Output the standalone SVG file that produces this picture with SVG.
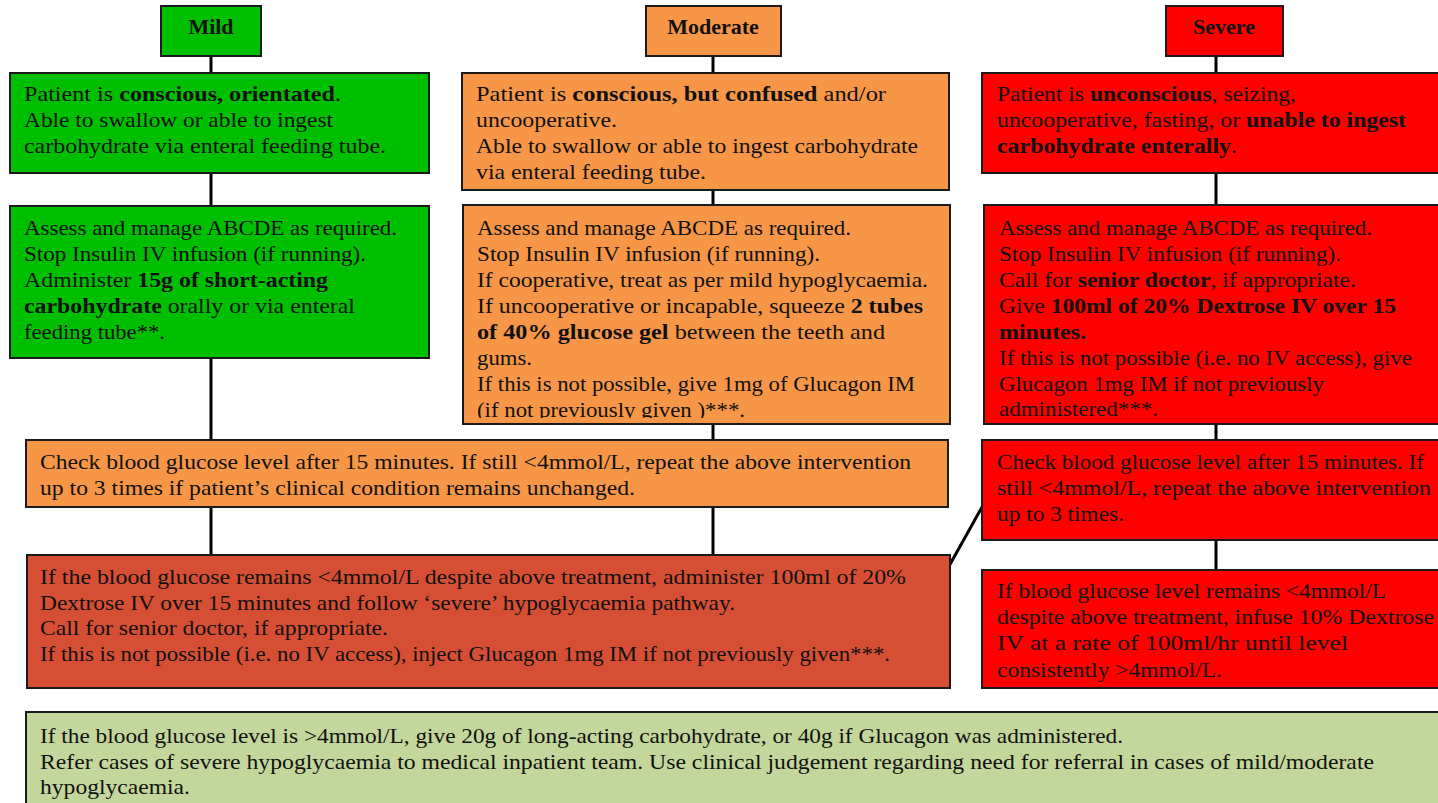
<svg xmlns="http://www.w3.org/2000/svg" width="1438" height="803" viewBox="0 0 1438 803">
<style>
.box{stroke:#1a1a1a;stroke-width:2}
.g{fill:#00BF00}.o{fill:#F79646}.r{fill:#FF0000}.dr{fill:#D64F35}.lg{fill:#C3D69B}
text{font-family:"Liberation Serif","Times New Roman",serif;font-size:21px;fill:#111}
.b{font-weight:bold}
.h{font-weight:bold;text-anchor:middle;font-size:22px}
.c line{stroke:#000;stroke-width:3}
</style>
<defs>
<clipPath id="clipMod2"><rect x="463" y="205" width="487" height="213"/></clipPath>
</defs>
<g class="c" id="connectors">
<line x1="211" y1="56" x2="211" y2="73"/>
<line x1="713" y1="56" x2="713" y2="73"/>
<line x1="1216" y1="56" x2="1216" y2="73"/>
<line x1="211" y1="173" x2="211" y2="206"/>
<line x1="713" y1="190" x2="713" y2="206"/>
<line x1="1216" y1="173" x2="1216" y2="206"/>
<line x1="211" y1="358" x2="211" y2="440"/>
<line x1="713" y1="424" x2="713" y2="440"/>
<line x1="1216" y1="424" x2="1216" y2="440"/>
<line x1="211" y1="507" x2="211" y2="555"/>
<line x1="713" y1="507" x2="713" y2="555"/>
<line x1="982" y1="507" x2="948" y2="568"/>
<line x1="1216" y1="540" x2="1216" y2="570"/>
</g>
<g id="mild-head"><rect class="box g" x="161" y="6" width="100" height="50"/><text class="h" x="211" y="34">Mild</text></g>
<g id="moderate-head"><rect class="box o" x="646" y="6" width="135" height="50"/><text class="h" x="713" y="34">Moderate</text></g>
<g id="severe-head"><rect class="box r" x="1166" y="6" width="117" height="50"/><text class="h" x="1224" y="34">Severe</text></g>

<g id="mild-1"><rect class="box g" x="10" y="73" width="419" height="100"/>
<text x="24" y="101" textLength="317" lengthAdjust="spacingAndGlyphs">Patient is <tspan class="b">conscious, orientated</tspan>.</text>
<text x="24" y="127" textLength="309" lengthAdjust="spacingAndGlyphs">Able to swallow or able to ingest</text>
<text x="24" y="153" textLength="362" lengthAdjust="spacingAndGlyphs">carbohydrate via enteral feeding tube.</text>
</g>
<g id="moderate-1"><rect class="box o" x="462" y="73" width="487" height="117"/>
<text x="476" y="101" textLength="410" lengthAdjust="spacingAndGlyphs">Patient is <tspan class="b">conscious, but confused</tspan> and/or</text>
<text x="476" y="127" textLength="141" lengthAdjust="spacingAndGlyphs">uncooperative.</text>
<text x="476" y="153" textLength="442" lengthAdjust="spacingAndGlyphs">Able to swallow or able to ingest carbohydrate</text>
<text x="476" y="179" textLength="230" lengthAdjust="spacingAndGlyphs">via enteral feeding tube.</text>
</g>
<g id="severe-1"><rect class="box r" x="982" y="73" width="470" height="100"/>
<text x="997" y="101" textLength="299" lengthAdjust="spacingAndGlyphs">Patient is <tspan class="b">unconscious</tspan>, seizing,</text>
<text x="997" y="127" textLength="409" lengthAdjust="spacingAndGlyphs">uncooperative, fasting, or <tspan class="b">unable to ingest</tspan></text>
<text x="997" y="153" textLength="240" lengthAdjust="spacingAndGlyphs"><tspan class="b">carbohydrate enterally</tspan>.</text>
</g>

<g id="mild-2"><rect class="box g" x="10" y="206" width="419" height="152"/>
<text x="24" y="235" textLength="373" lengthAdjust="spacingAndGlyphs">Assess and manage ABCDE as required.</text>
<text x="24" y="261" textLength="342" lengthAdjust="spacingAndGlyphs">Stop Insulin IV infusion (if running).</text>
<text x="24" y="287" textLength="304" lengthAdjust="spacingAndGlyphs">Administer <tspan class="b">15g of short-acting</tspan></text>
<text x="24" y="313" textLength="331" lengthAdjust="spacingAndGlyphs"><tspan class="b">carbohydrate</tspan> orally or via enteral</text>
<text x="24" y="339" textLength="141" lengthAdjust="spacingAndGlyphs">feeding tube**.</text>
</g>
<g id="moderate-2"><rect class="box o" x="463" y="205" width="487" height="219"/>
<g clip-path="url(#clipMod2)">
<text x="477" y="235" textLength="374" lengthAdjust="spacingAndGlyphs">Assess and manage ABCDE as required.</text>
<text x="477" y="261" textLength="343" lengthAdjust="spacingAndGlyphs">Stop Insulin IV infusion (if running).</text>
<text x="477" y="287" textLength="451" lengthAdjust="spacingAndGlyphs">If cooperative, treat as per mild hypoglycaemia.</text>
<text x="477" y="313" textLength="446" lengthAdjust="spacingAndGlyphs">If uncooperative or incapable, squeeze <tspan class="b">2 tubes</tspan></text>
<text x="477" y="339" textLength="408" lengthAdjust="spacingAndGlyphs"><tspan class="b">of 40% glucose gel</tspan> between the teeth and</text>
<text x="477" y="365" textLength="55" lengthAdjust="spacingAndGlyphs">gums.</text>
<text x="477" y="391" textLength="438" lengthAdjust="spacingAndGlyphs">If this is not possible, give 1mg of Glucagon IM</text>
<text x="477" y="417" textLength="268" lengthAdjust="spacingAndGlyphs">(if not previously given )***.</text>
</g>
</g>
<g id="severe-2"><rect class="box r" x="984" y="205" width="470" height="219"/>
<text x="999" y="235" textLength="373" lengthAdjust="spacingAndGlyphs">Assess and manage ABCDE as required.</text>
<text x="999" y="261" textLength="342" lengthAdjust="spacingAndGlyphs">Stop Insulin IV infusion (if running).</text>
<text x="999" y="287" textLength="357" lengthAdjust="spacingAndGlyphs">Call for <tspan class="b">senior doctor</tspan>, if appropriate.</text>
<text x="999" y="313" textLength="397" lengthAdjust="spacingAndGlyphs">Give <tspan class="b">100ml of 20% Dextrose IV over 15</tspan></text>
<text x="999" y="339" textLength="87" lengthAdjust="spacingAndGlyphs"><tspan class="b">minutes.</tspan></text>
<text x="999" y="365" textLength="413" lengthAdjust="spacingAndGlyphs">If this is not possible (i.e. no IV access), give</text>
<text x="999" y="391" textLength="325" lengthAdjust="spacingAndGlyphs">Glucagon 1mg IM if not previously</text>
<text x="999" y="416" textLength="159" lengthAdjust="spacingAndGlyphs">administered***.</text>
</g>

<g id="check"><rect class="box o" x="26" y="440" width="922" height="67"/>
<text x="40" y="469" textLength="871" lengthAdjust="spacingAndGlyphs">Check blood glucose level after 15 minutes. If still &lt;4mmol/L, repeat the above intervention</text>
<text x="40" y="495" textLength="595" lengthAdjust="spacingAndGlyphs">up to 3 times if patient’s clinical condition remains unchanged.</text>
</g>
<g id="severe-check"><rect class="box r" x="982" y="440" width="470" height="100"/>
<text x="997" y="469" textLength="427" lengthAdjust="spacingAndGlyphs">Check blood glucose level after 15 minutes. If</text>
<text x="997" y="495" textLength="434" lengthAdjust="spacingAndGlyphs">still &lt;4mmol/L, repeat the above intervention</text>
<text x="997" y="521" textLength="127" lengthAdjust="spacingAndGlyphs">up to 3 times.</text>
</g>

<g id="escalate"><rect class="box dr" x="27" y="555" width="923" height="133"/>
<text x="40" y="584" textLength="866" lengthAdjust="spacingAndGlyphs">If the blood glucose remains &lt;4mmol/L despite above treatment, administer 100ml of 20%</text>
<text x="40" y="610" textLength="695" lengthAdjust="spacingAndGlyphs">Dextrose IV over 15 minutes and follow ‘severe’ hypoglycaemia pathway.</text>
<text x="40" y="635" textLength="348" lengthAdjust="spacingAndGlyphs">Call for senior doctor, if appropriate.</text>
<text x="40" y="661" textLength="850" lengthAdjust="spacingAndGlyphs">If this is not possible (i.e. no IV access), inject Glucagon 1mg IM if not previously given***.</text>
</g>
<g id="severe-infuse"><rect class="box r" x="982" y="570" width="470" height="118"/>
<text x="997" y="598" textLength="389" lengthAdjust="spacingAndGlyphs">If blood glucose level remains &lt;4mmol/L</text>
<text x="997" y="624" textLength="437" lengthAdjust="spacingAndGlyphs">despite above treatment, infuse 10% Dextrose</text>
<text x="997" y="650" textLength="351" lengthAdjust="spacingAndGlyphs">IV at a rate of 100ml/hr until level</text>
<text x="997" y="677" textLength="225" lengthAdjust="spacingAndGlyphs">consistently &gt;4mmol/L.</text>
</g>

<g id="follow-up"><rect class="box lg" x="26" y="712" width="1424" height="100"/>
<text x="40" y="743" textLength="1083" lengthAdjust="spacingAndGlyphs">If the blood glucose level is &gt;4mmol/L, give 20g of long-acting carbohydrate, or 40g if Glucagon was administered.</text>
<text x="40" y="769" textLength="1334" lengthAdjust="spacingAndGlyphs">Refer cases of severe hypoglycaemia to medical inpatient team. Use clinical judgement regarding need for referral in cases of mild/moderate</text>
<text x="40" y="794" textLength="150" lengthAdjust="spacingAndGlyphs">hypoglycaemia.</text>
</g>
</svg>
